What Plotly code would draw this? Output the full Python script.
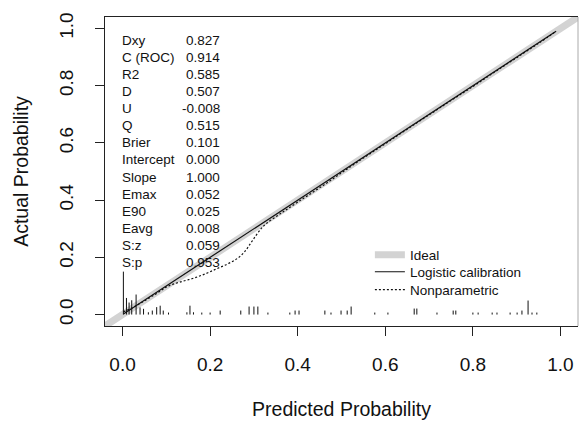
import plotly.graph_objects as go

# ---------------- data ----------------
stat_labels = ["Dxy", "C (ROC)", "R2", "D", "U", "Q", "Brier", "Intercept",
               "Slope", "Emax", "E90", "Eavg", "S:z", "S:p"]
stat_values = ["0.827", "0.914", "0.585", "0.507", "-0.008", "0.515", "0.101",
               "0.000", "1.000", "0.052", "0.025", "0.008", "0.059", "0.953"]

ideal_x = [-0.04, 1.04]
ideal_y = [-0.04, 1.04]

logistic_x = [0.002, 0.99]
logistic_y = [0.002, 0.99]

nonpar_x = [0.002, 0.02, 0.05, 0.08, 0.105, 0.13, 0.16, 0.19, 0.215, 0.24,
            0.262, 0.278, 0.292, 0.305, 0.318, 0.33, 0.36, 0.40, 0.45, 0.50,
            0.55, 0.60, 0.65, 0.70, 0.75, 0.80, 0.85, 0.90, 0.95, 0.99]
nonpar_y = [0.010, 0.022, 0.048, 0.076, 0.100, 0.113, 0.126, 0.143, 0.160, 0.177,
            0.196, 0.218, 0.248, 0.277, 0.303, 0.320, 0.352, 0.393, 0.443, 0.495,
            0.547, 0.597, 0.648, 0.698, 0.748, 0.797, 0.848, 0.898, 0.948, 0.990]

# distribution of predicted risks (spike histogram at the bottom)
spike_x = [0.002, 0.009, 0.015, 0.021, 0.031, 0.040, 0.048, 0.059, 0.068, 0.078,
           0.086, 0.093, 0.105, 0.147, 0.154, 0.162, 0.181, 0.200, 0.223, 0.270,
           0.289, 0.300, 0.309, 0.332, 0.382, 0.394, 0.403, 0.462, 0.476, 0.499,
           0.513, 0.522, 0.576, 0.606, 0.666, 0.672, 0.718, 0.755, 0.761, 0.800,
           0.812, 0.844, 0.855, 0.885, 0.901, 0.912, 0.926, 0.935, 0.946]
spike_h = [0.150, 0.058, 0.042, 0.050, 0.070, 0.025, 0.020, 0.008, 0.014, 0.026,
           0.031, 0.014, 0.007, 0.008, 0.031, 0.008, 0.007, 0.007, 0.014, 0.014,
           0.028, 0.028, 0.028, 0.007, 0.007, 0.014, 0.014, 0.014, 0.007, 0.014,
           0.014, 0.028, 0.007, 0.007, 0.021, 0.021, 0.007, 0.014, 0.014, 0.007,
           0.007, 0.007, 0.007, 0.007, 0.007, 0.014, 0.049, 0.007, 0.007]

x_ticks = [0.0, 0.2, 0.4, 0.6, 0.8, 1.0]
y_ticks = [0.0, 0.2, 0.4, 0.6, 0.8, 1.0]

# ---------------- figure ----------------
FONT = "Liberation Sans, Arial, sans-serif"
fig = go.Figure()

fig.add_trace(go.Scatter(x=ideal_x, y=ideal_y, mode="lines", name="Ideal",
                         legend="legend",
                         line=dict(color="#d3d3d3", width=7)))
fig.add_trace(go.Scatter(x=logistic_x, y=logistic_y, mode="lines",
                         name="Logistic calibration", legend="legend2",
                         line=dict(color="#111111", width=1.2)))
fig.add_trace(go.Scatter(x=nonpar_x, y=nonpar_y, mode="lines", name="Nonparametric",
                         legend="legend3", line_shape="spline",
                         line=dict(color="#111111", width=1.2, dash="2px,2px")))

sx, sy = [], []
for xv, hv in zip(spike_x, spike_h):
    sx += [xv, xv, None]
    sy += [0.0, hv, None]
fig.add_trace(go.Scatter(x=sx, y=sy, mode="lines", showlegend=False,
                         line=dict(color="#111111", width=1)))

row_step = 0.0598
for i, (lab, val) in enumerate(zip(stat_labels, stat_values)):
    yy = 0.959 - i * row_step
    fig.add_annotation(x=-0.006, y=yy, text=lab, showarrow=False, xanchor="left",
                       yanchor="middle", font=dict(family=FONT, size=13.5, color="#111"))
    fig.add_annotation(x=0.228, y=yy, text=val, showarrow=False, xanchor="right",
                       yanchor="middle", font=dict(family=FONT, size=13.5, color="#111"))

fig.add_shape(type="line", xref="paper", yref="paper", x0=1, x1=1, y0=0, y1=1,
              line=dict(color="#aaaaaa", width=1))

leg_common = dict(xanchor="left", yanchor="top", bgcolor="rgba(0,0,0,0)",
                  font=dict(family=FONT, size=13.5, color="#111"), itemwidth=30)

fig.update_layout(
    width=581, height=423,
    margin=dict(l=105, r=3, t=17, b=97),
    paper_bgcolor="white", plot_bgcolor="white",
    font=dict(family=FONT, color="#111"),
    showlegend=True,
    legend=dict(x=0.56, y=0.280, **leg_common),
    legend2=dict(x=0.56, y=0.225, **leg_common),
    legend3=dict(x=0.56, y=0.167, **leg_common),
    xaxis=dict(range=[-0.04, 1.04], tickvals=x_ticks, tickformat=".1f",
               showgrid=False, zeroline=False, showline=True, mirror=True,
               linecolor="#222", linewidth=1, ticks="outside", ticklen=9,
               tickcolor="#222", tickfont=dict(size=19), ticklabelstandoff=12,
               title=dict(text="Predicted Probability", font=dict(size=19.5), standoff=28),
               automargin=False),
    yaxis=dict(range=[-0.04, 1.04], tickvals=y_ticks, tickformat=".1f",
               showgrid=False, zeroline=False, showline=True, mirror=False,
               linecolor="#222", linewidth=1, ticks="outside", ticklen=9,
               tickcolor="#222", tickfont=dict(size=19), tickangle=-90,
               ticklabelstandoff=14,
               title=dict(text="Actual Probability", font=dict(size=19.5), standoff=22),
               automargin=False),
)

fig.write_html("out.html")
